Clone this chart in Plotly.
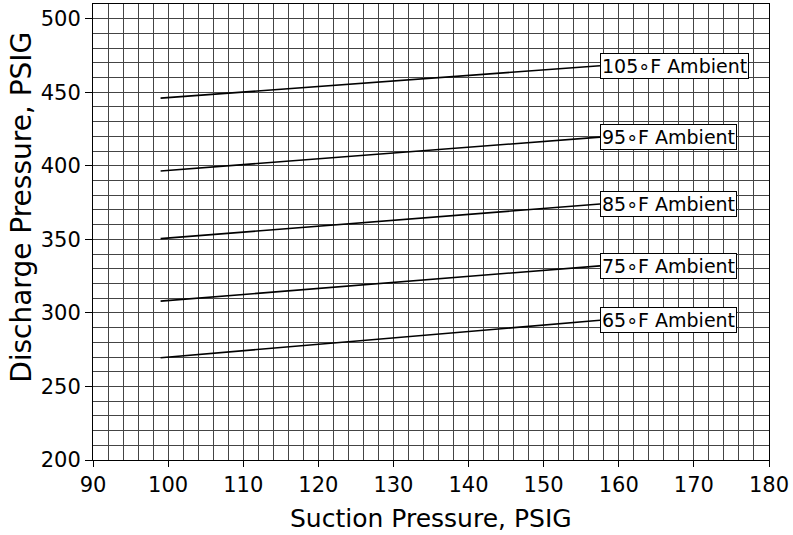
import plotly.graph_objects as go

# Data
ambients = ["105∘F Ambient", "95∘F Ambient", "85∘F Ambient", "75∘F Ambient", "65∘F Ambient"]
suction_start = [99, 99, 99, 99, 99]
suction_end = [157.5, 157.5, 157.5, 157.5, 157.5]
discharge_start = [446, 396.5, 350.5, 308, 269.5]
discharge_end = [468, 419.5, 374, 332, 295]

x_ticks = list(range(90, 181, 10))
y_ticks = list(range(200, 501, 50))

FONT = "DejaVu Sans, Verdana, sans-serif"

fig = go.Figure()
for name, x0, x1, y0, y1 in zip(ambients, suction_start, suction_end, discharge_start, discharge_end):
    fig.add_trace(go.Scatter(x=[x0, x1], y=[y0, y1], mode="lines",
                             line=dict(color="black", width=1.6), name=name,
                             showlegend=False, hoverinfo="skip"))
    fig.add_annotation(x=x1, y=y1, text=name, showarrow=False, xanchor="left",
                       yanchor="middle", bgcolor="white", bordercolor="black",
                       borderwidth=1, borderpad=1, font=dict(size=19, color="black", family=FONT))

grid_color = "#444444"
fig.update_xaxes(range=[90, 180], tickvals=x_ticks, ticks="outside", ticklen=6,
                 tickcolor="black", showgrid=True, gridcolor=grid_color, gridwidth=1,
                 minor=dict(dtick=2, tick0=90, showgrid=True, gridcolor=grid_color, gridwidth=1, ticks=""),
                 showline=True, linecolor="black", linewidth=1, mirror=True, zeroline=False,
                 automargin=False,
                 tickfont=dict(size=21, color="black", family=FONT))
fig.update_yaxes(range=[200, 510], tickvals=y_ticks, ticks="outside", ticklen=7,
                 tickcolor="black", showgrid=True, gridcolor=grid_color, gridwidth=1,
                 minor=dict(dtick=10, tick0=200, showgrid=True, gridcolor=grid_color, gridwidth=1, ticks=""),
                 showline=True, linecolor="black", linewidth=1, mirror=True, zeroline=False,
                 automargin=False,
                 tickfont=dict(size=21, color="black", family=FONT))

fig.add_annotation(xref="paper", yref="paper", x=0.5, y=-0.129, text="Suction Pressure, PSIG",
                   showarrow=False, xanchor="center", yanchor="middle",
                   font=dict(size=25, color="black", family=FONT))
fig.add_annotation(xref="paper", yref="paper", x=-0.105, y=0.553, text="Discharge Pressure, PSIG",
                   showarrow=False, xanchor="center", yanchor="middle", textangle=-90,
                   font=dict(size=28, color="black", family=FONT))

fig.update_layout(width=793, height=535, margin=dict(l=93, r=24, t=4, b=75),
                  paper_bgcolor="white", plot_bgcolor="white", font=dict(family=FONT),
                  template="none")

fig.write_html("out.html", config={"displayModeBar": False},
               post_script="document.body.style.margin='0';")
